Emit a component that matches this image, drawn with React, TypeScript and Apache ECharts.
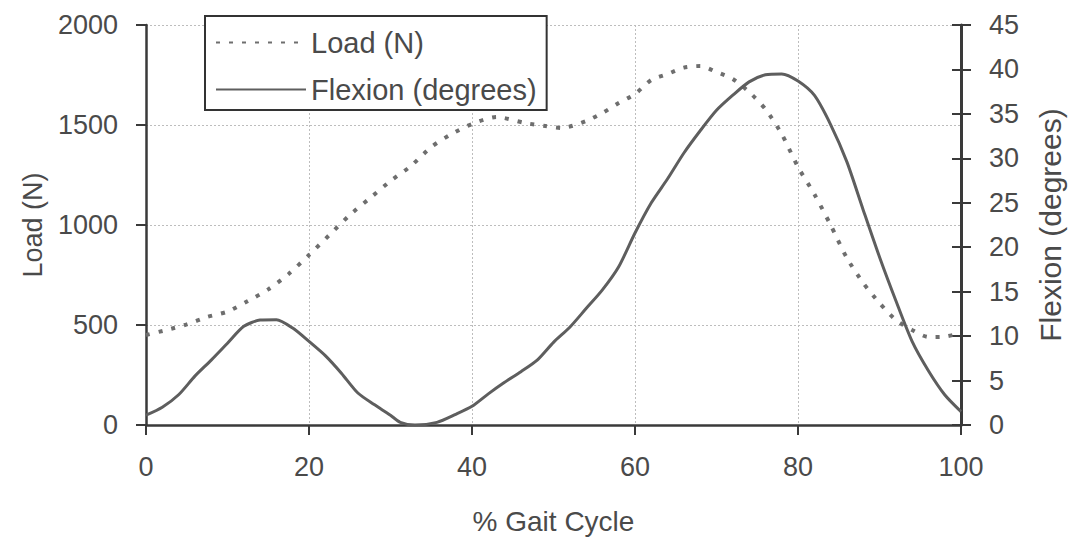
import React, { useEffect, useRef } from "react";
import * as echarts from "echarts";

const gaitTicks = [0, 20, 40, 60, 80, 100];
const loadTicks = [0, 500, 1000, 1500, 2000];
const flexTicks = [0, 5, 10, 15, 20, 25, 30, 35, 40, 45];

const seriesNames = ["Load (N)", "Flexion (degrees)"];

const loadX = [0, 2.5, 5, 7.5, 10, 12.5, 15, 17.5, 20, 22.5, 25, 27.5, 30, 32.5, 35, 37.5, 40, 43, 46.5, 49, 51, 54, 56, 58, 60, 62, 64, 66, 68, 70, 72, 74, 76, 78, 80, 82, 84, 86, 88, 90, 92, 94, 96, 98, 100];
const loadY = [450, 475, 503, 540, 567, 620, 678, 755, 850, 950, 1050, 1135, 1220, 1295, 1390, 1455, 1505, 1540, 1510, 1495, 1485, 1520, 1560, 1610, 1655, 1725, 1755, 1787, 1795, 1765, 1730, 1665, 1580, 1455, 1290, 1155, 1000, 835, 710, 610, 525, 475, 440, 442, 460];

const flexX = [0, 2, 4, 6, 8, 10, 12, 14, 16, 18, 20, 22, 24, 26, 28, 30, 31.2, 33, 35.7, 38, 40, 42, 44, 46, 48, 50, 52, 54, 56, 58, 60, 62, 64, 66, 68, 70, 72, 74, 76, 78, 80, 82, 84, 86, 88, 90, 92, 94, 96, 98, 100];
const flexY = [1.1, 2.0, 3.4, 5.5, 7.3, 9.2, 11.1, 11.8, 11.85, 10.9, 9.4, 7.8, 5.8, 3.6, 2.3, 1.1, 0.3, 0, 0.3, 1.2, 2.1, 3.5, 4.8, 6.0, 7.3, 9.3, 11.0, 13.1, 15.2, 17.8, 21.6, 25.0, 27.7, 30.6, 33.1, 35.4, 37.1, 38.6, 39.4, 39.5, 38.7, 37.1, 33.8, 29.6, 24.2, 18.9, 14.0, 9.4, 6.1, 3.4, 1.5];

const FONT = "'Liberation Sans', Arial, sans-serif";
const TEXT = "#4a4a4a";
const AXIS = "#3a3a3a";

const range = (t: number[]) => ({ min: t[0], max: t[t.length - 1], interval: t[1] - t[0] });
const plain = (v: number) => String(v);

export default function App() {
  const ref = useRef<HTMLDivElement>(null);
  useEffect(() => {
    const chart = echarts.init(ref.current!, null, { renderer: "svg" });
    const labelStyle = { fontFamily: FONT, fontSize: 27, color: TEXT, formatter: plain };
    chart.setOption({
      animation: false,
      backgroundColor: "#ffffff",
      grid: { left: 146, right: 117, top: 25, bottom: 115 },
      legend: {
        data: seriesNames,
        orient: "vertical",
        left: 205,
        top: 16,
        padding: [12, 10, 6, 10],
        itemGap: 18,
        itemWidth: 90,
        itemHeight: 14,
        backgroundColor: "#ffffff",
        borderColor: "#333333",
        borderWidth: 2,
        itemStyle: { opacity: 0 },
        textStyle: { fontFamily: FONT, fontSize: 29, color: TEXT },
      },
      xAxis: {
        type: "value",
        ...range(gaitTicks),
        name: "% Gait Cycle",
        nameLocation: "middle",
        nameGap: 82,
        nameTextStyle: { fontFamily: FONT, fontSize: 28, color: TEXT },
        axisLine: { show: true, lineStyle: { color: AXIS, width: 2.5 } },
        axisTick: { show: true, length: 10, lineStyle: { color: AXIS, width: 2 } },
        axisLabel: { ...labelStyle, margin: 28 },
        splitLine: { show: true, lineStyle: { color: "#bdbdbd", width: 1, type: [2, 2] } },
      },
      yAxis: [
        {
          type: "value",
          position: "left",
          ...range(loadTicks),
          name: "Load (N)",
          nameLocation: "middle",
          nameGap: 100,
          nameTextStyle: { fontFamily: FONT, fontSize: 27, color: TEXT },
          axisLine: { show: true, lineStyle: { color: AXIS, width: 2.5 } },
          axisTick: { show: true, length: 10, lineStyle: { color: AXIS, width: 2 } },
          axisLabel: { ...labelStyle, margin: 28 },
          splitLine: { show: true, lineStyle: { color: "#bdbdbd", width: 1, type: [2, 2] } },
        },
        {
          type: "value",
          position: "right",
          ...range(flexTicks),
          name: "Flexion (degrees)",
          nameLocation: "middle",
          nameGap: 74,
          nameRotate: 90,
          nameTextStyle: { fontFamily: FONT, fontSize: 30, color: TEXT },
          axisLine: { show: true, lineStyle: { color: AXIS, width: 3 } },
          axisTick: { show: true, length: 10, lineStyle: { color: AXIS, width: 2 } },
          axisLabel: { ...labelStyle, margin: 28 },
          splitLine: { show: false },
        },
        {
          type: "value",
          position: "right",
          ...range(flexTicks),
          axisLine: { show: false },
          axisTick: { show: true, inside: true, length: 9, lineStyle: { color: AXIS, width: 2 } },
          axisLabel: { show: false },
          splitLine: { show: false },
        },
      ],
      series: [
        {
          name: seriesNames[0],
          type: "line",
          yAxisIndex: 0,
          symbol: "none",
          smooth: 0.25,
          data: loadX.map((x, i) => [x, loadY[i]]),
          lineStyle: { color: "#6e6e6e", width: 4, type: [4, 9], cap: "butt" },
          itemStyle: { color: "#6e6e6e" },
          z: 3,
        },
        {
          name: seriesNames[1],
          type: "line",
          yAxisIndex: 1,
          symbol: "none",
          smooth: 0.25,
          data: flexX.map((x, i) => [x, flexY[i]]),
          lineStyle: { color: "#5e5e5e", width: 3, type: "solid" },
          itemStyle: { color: "#5e5e5e" },
          z: 4,
        },
      ],
    });
    return () => chart.dispose();
  }, []);
  return (
    <div
      ref={ref}
      style={{ position: "fixed", left: 0, top: 0, width: 1078, height: 540, background: "#fff" }}
    />
  );
}
